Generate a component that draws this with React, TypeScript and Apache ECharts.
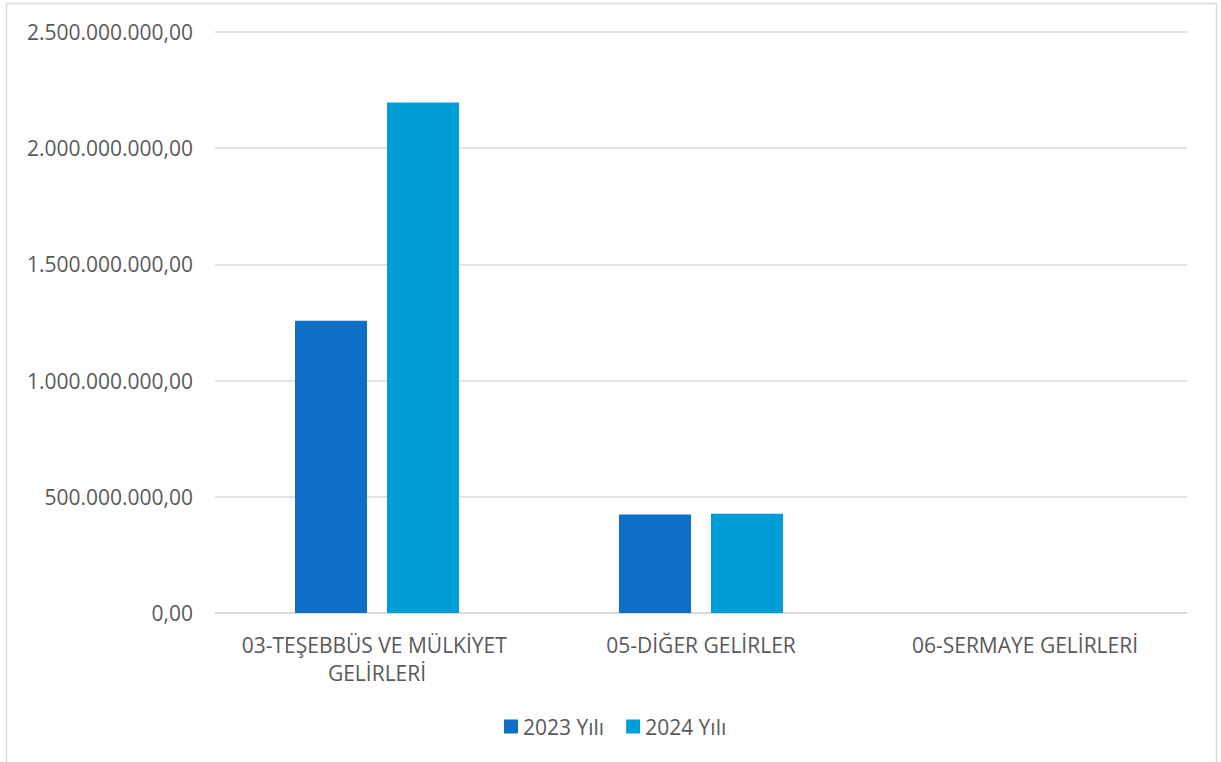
import React, { useEffect, useRef } from "react";
import * as echarts from "echarts";

const categories = ["03-TEŞEBBÜS VE MÜLKİYET GELİRLERİ", "05-DİĞER GELİRLER", "06-SERMAYE GELİRLERİ"];
const seriesNames = ["2023 Yılı", "2024 Yılı"];
const values2023 = [1258000000, 424000000, 0];
const values2024 = [2197000000, 427000000, 0];
const colors = ["#0F6FC6", "#009DD9"];

function fmtTR(v: number): string {
  const [intPart, dec] = Math.abs(v).toFixed(2).split(".");
  const withDots = intPart.replace(/\B(?=(\d{3})+(?!\d))/g, ".");
  return (v < 0 ? "-" : "") + withDots + "," + dec;
}

export default function App() {
  const ref = useRef<HTMLDivElement>(null);
  useEffect(() => {
    document.body.style.margin = "0";
    const chart = echarts.init(ref.current!, undefined, { renderer: "svg" });
    const font = "'Open Sans', 'Noto Sans', sans-serif";
    chart.setOption({
      animation: false,
      backgroundColor: "#ffffff",
      textStyle: { fontFamily: font },
      graphic: [
        {
          type: "rect",
          shape: { x: 6.5, y: 3.5, width: 1210, height: 800 },
          style: { fill: "none", stroke: "#d9d9d9", lineWidth: 1.5 },
          silent: true,
        },
      ],
      grid: { left: 215, right: 34, top: 32, bottom: 149, containLabel: false },
      legend: {
        left: 504,
        top: 716,
        padding: 0,
        itemWidth: 14,
        itemHeight: 14,
        itemGap: 22,
        icon: "rect",
        textStyle: { color: "#595959", fontSize: 21, fontFamily: font },
        data: seriesNames,
      },
      xAxis: {
        type: "category",
        data: categories,
        axisLine: { show: true, lineStyle: { color: "#d9d9d9", width: 1.5 } },
        axisTick: { show: false },
        axisLabel: {
          color: "#595959",
          fontSize: 21,
          fontFamily: font,
          margin: 18,
          lineHeight: 28,
          width: 322,
          overflow: "break",
          interval: 0,
        },
      },
      yAxis: {
        type: "value",
        min: 0,
        max: 2500000000,
        interval: 500000000,
        axisLine: { show: false },
        axisTick: { show: false },
        splitLine: { lineStyle: { color: "#d9d9d9", width: 1.5 } },
        axisLabel: {
          color: "#595959",
          fontSize: 21,
          fontFamily: font,
          margin: 22,
          formatter: (v: number) => fmtTR(v),
        },
      },
      series: [
        {
          name: seriesNames[0],
          type: "bar",
          data: values2023,
          itemStyle: { color: colors[0] },
          barWidth: 72,
          barGap: "27.8%",
        },
        {
          name: seriesNames[1],
          type: "bar",
          data: values2024,
          itemStyle: { color: colors[1] },
          barWidth: 72,
          barGap: "27.8%",
        },
      ],
    });
    return () => chart.dispose();
  }, []);
  return <div ref={ref} style={{ width: 1221, height: 762 }} />;
}
